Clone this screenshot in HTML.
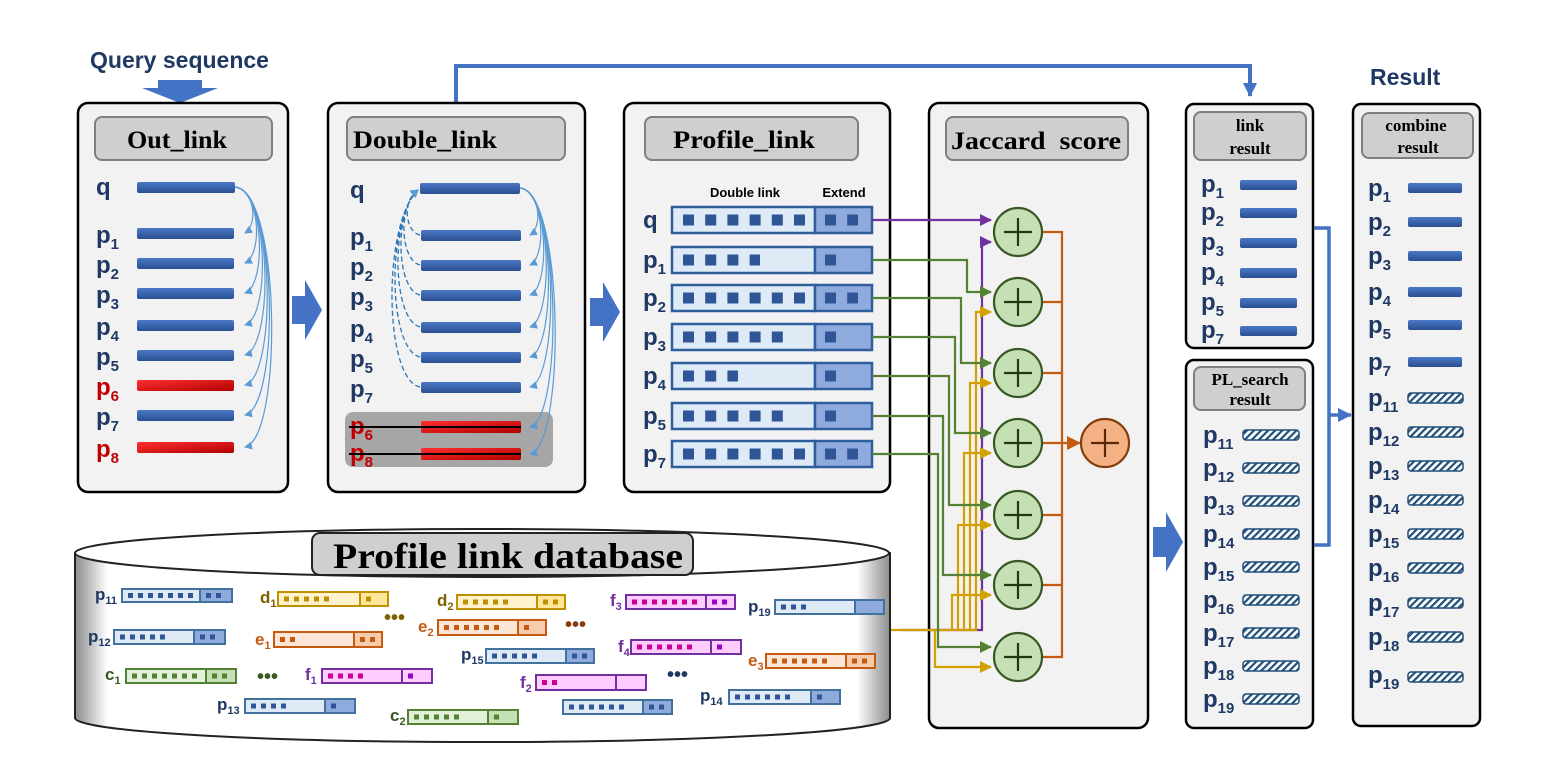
<!DOCTYPE html>
<html><head><meta charset="utf-8"><style>
html,body{margin:0;padding:0;background:#fff;}
svg{display:block;}
.lb{font-family:"Liberation Sans",sans-serif;font-weight:bold;font-size:24px;fill:#1f3864;}
.lb tspan{font-size:15px;}
.red{fill:#c00000;}
.hd{font-family:"Liberation Serif",serif;font-weight:bold;fill:#000;text-anchor:middle;}
.sm{font-family:"Liberation Sans",sans-serif;font-weight:bold;font-size:17px;}
.sm tspan{font-size:11px;}
</style></head><body>
<svg width="1557" height="778" viewBox="0 0 1557 778" xmlns="http://www.w3.org/2000/svg">
<defs>
<linearGradient id="gb" x1="0" y1="0" x2="0" y2="1"><stop offset="0" stop-color="#4a78c8"/><stop offset="1" stop-color="#2a4f90"/></linearGradient>
<linearGradient id="gr" x1="0" y1="0" x2="1" y2="1"><stop offset="0" stop-color="#ff3030"/><stop offset="1" stop-color="#b00000"/></linearGradient>
<linearGradient id="cyl" x1="0" y1="0" x2="1" y2="0"><stop offset="0" stop-color="#8c8c8c"/><stop offset="0.04" stop-color="#fff"/><stop offset="0.96" stop-color="#fff"/><stop offset="1" stop-color="#8c8c8c"/></linearGradient>
<pattern id="hatch" width="5" height="5" patternUnits="userSpaceOnUse" patternTransform="rotate(45)"><rect width="5" height="5" fill="#fff"/><rect width="2.2" height="5" fill="#1f4e79"/></pattern>
<marker id="ab" markerWidth="8" markerHeight="8" refX="7" refY="4" orient="auto" markerUnits="userSpaceOnUse"><path d="M0,0 L8,4 L0,8z" fill="#5b9bd5"/></marker>
<marker id="ag" markerWidth="12" markerHeight="12" refX="11" refY="6" orient="auto" markerUnits="userSpaceOnUse"><path d="M0,0 L12,6 L0,12z" fill="#548235"/></marker>
<marker id="ay" markerWidth="12" markerHeight="12" refX="11" refY="6" orient="auto" markerUnits="userSpaceOnUse"><path d="M0,0 L12,6 L0,12z" fill="#d4a000"/></marker>
<marker id="ap" markerWidth="12" markerHeight="12" refX="11" refY="6" orient="auto" markerUnits="userSpaceOnUse"><path d="M0,0 L12,6 L0,12z" fill="#7030a0"/></marker>
<marker id="ao" markerWidth="14" markerHeight="14" refX="13" refY="7" orient="auto" markerUnits="userSpaceOnUse"><path d="M0,0 L14,7 L0,14z" fill="#c55a11"/></marker>
<marker id="abl" markerWidth="14" markerHeight="14" refX="13" refY="7" orient="auto" markerUnits="userSpaceOnUse"><path d="M0,0 L14,7 L0,14z" fill="#4472c4"/></marker>
</defs>

<text x="90" y="68" font-family="Liberation Sans,sans-serif" font-weight="bold" font-size="23" fill="#1f3864">Query sequence</text>
<polygon points="158,80 202,80 202,88 218,88 180,103 142,88 158,88" fill="#4472c4"/>

<polyline points="456,103 456,66 1250,66 1250,96" fill="none" stroke="#4472c4" stroke-width="4" marker-end="url(#abl)"/>

<!-- Panel 1 -->
<rect x="78" y="103" width="210" height="389" rx="10" fill="#f2f2f2" stroke="#000" stroke-width="2.5"/>
<rect x="95" y="117" width="177" height="43" rx="7" fill="#d0cece" stroke="#7f7f7f" stroke-width="2"/>
<text x="177" y="148" class="hd" font-size="25" textLength="100" lengthAdjust="spacingAndGlyphs">Out_link</text>
<text x="96" y="195" class="lb">q</text>
<rect x="137" y="182" width="98" height="11" rx="2" fill="url(#gb)"/>
<text x="96" y="243" class="lb">p<tspan dy="6">1</tspan></text>
<text x="96" y="273" class="lb">p<tspan dy="6">2</tspan></text>
<text x="96" y="303" class="lb">p<tspan dy="6">3</tspan></text>
<text x="96" y="335" class="lb">p<tspan dy="6">4</tspan></text>
<text x="96" y="365" class="lb">p<tspan dy="6">5</tspan></text>
<text x="96" y="395" class="lb red">p<tspan dy="6">6</tspan></text>
<text x="96" y="425" class="lb">p<tspan dy="6">7</tspan></text>
<text x="96" y="457" class="lb red">p<tspan dy="6">8</tspan></text>
<rect x="137" y="228" width="97" height="11" rx="2" fill="url(#gb)"/>
<rect x="137" y="258" width="97" height="11" rx="2" fill="url(#gb)"/>
<rect x="137" y="288" width="97" height="11" rx="2" fill="url(#gb)"/>
<rect x="137" y="320" width="97" height="11" rx="2" fill="url(#gb)"/>
<rect x="137" y="350" width="97" height="11" rx="2" fill="url(#gb)"/>
<rect x="137" y="380" width="97" height="11" rx="2" fill="url(#gr)"/>
<rect x="137" y="410" width="97" height="11" rx="2" fill="url(#gb)"/>
<rect x="137" y="442" width="97" height="11" rx="2" fill="url(#gr)"/>
<g fill="none" stroke="#5b9bd5" stroke-width="1.2" marker-end="url(#ab)">
<path d="M235,187 C255,190 258,225 245,233"/>
<path d="M235,187 C260,190 263,255 245,263"/>
<path d="M235,187 C264,190 267,285 245,293"/>
<path d="M235,187 C268,190 271,317 245,325"/>
<path d="M235,187 C272,190 274,347 245,355"/>
<path d="M235,187 C275,190 277,377 245,385"/>
<path d="M235,187 C278,190 280,407 245,415"/>
<path d="M235,187 C281,190 283,439 245,447"/>
</g>

<polygon points="292,296 305,296 305,280 322,310 305,340 305,324 292,324" fill="#4472c4"/>
<polygon points="590,298 603,298 603,282 620,312 603,342 603,326 590,326" fill="#4472c4"/>
<polygon points="1153,527 1166,527 1166,512 1183,542 1166,572 1166,557 1153,557" fill="#4472c4"/>

<!-- Panel 2 -->
<rect x="328" y="103" width="257" height="389" rx="10" fill="#f2f2f2" stroke="#000" stroke-width="2.5"/>
<rect x="347" y="117" width="218" height="43" rx="7" fill="#d0cece" stroke="#7f7f7f" stroke-width="2"/>
<text x="425" y="148" class="hd" font-size="25" textLength="144" lengthAdjust="spacingAndGlyphs">Double_link</text>
<rect x="345" y="412" width="208" height="55" rx="8" fill="#a6a6a6"/>
<text x="350" y="198" class="lb">q</text>
<text x="350" y="245" class="lb">p<tspan dy="6">1</tspan></text>
<text x="350" y="275" class="lb">p<tspan dy="6">2</tspan></text>
<text x="350" y="305" class="lb">p<tspan dy="6">3</tspan></text>
<text x="350" y="337" class="lb">p<tspan dy="6">4</tspan></text>
<text x="350" y="367" class="lb">p<tspan dy="6">5</tspan></text>
<text x="350" y="397" class="lb">p<tspan dy="6">7</tspan></text>
<text x="350" y="434" class="lb red">p<tspan dy="6">6</tspan></text>
<text x="350" y="461" class="lb red">p<tspan dy="6">8</tspan></text>
<rect x="420" y="183" width="100" height="11" rx="2" fill="url(#gb)"/>
<rect x="421" y="230" width="100" height="11" rx="2" fill="url(#gb)"/>
<rect x="421" y="260" width="100" height="11" rx="2" fill="url(#gb)"/>
<rect x="421" y="290" width="100" height="11" rx="2" fill="url(#gb)"/>
<rect x="421" y="322" width="100" height="11" rx="2" fill="url(#gb)"/>
<rect x="421" y="352" width="100" height="11" rx="2" fill="url(#gb)"/>
<rect x="421" y="382" width="100" height="11" rx="2" fill="url(#gb)"/>
<rect x="421" y="421" width="100" height="12" rx="2" fill="url(#gr)"/>
<rect x="421" y="448" width="100" height="12" rx="2" fill="url(#gr)"/>
<line x1="349" y1="427" x2="521" y2="427" stroke="#000" stroke-width="2"/>
<line x1="349" y1="454" x2="521" y2="454" stroke="#000" stroke-width="2"/>
<g fill="none" stroke="#5b9bd5" stroke-width="1.2" marker-end="url(#ab)">
<path d="M520,188 C540,191 543,227 530,235"/>
<path d="M520,188 C544,191 547,257 530,265"/>
<path d="M520,188 C548,191 551,287 530,295"/>
<path d="M520,188 C552,191 554,319 530,327"/>
<path d="M520,188 C555,191 557,349 530,357"/>
<path d="M520,188 C558,191 560,379 530,387"/>
<path d="M520,188 C561,191 563,419 530,427"/>
<path d="M520,188 C564,191 566,446 530,454"/>
</g>
<g fill="none" stroke="#2e75b6" stroke-width="1.3" stroke-dasharray="5 3" marker-end="url(#ab)">
<path d="M420,235 C405,232 402,200 418,190"/>
<path d="M420,265 C400,260 398,205 418,190"/>
<path d="M420,295 C396,290 394,210 418,190"/>
<path d="M420,327 C392,320 390,215 418,190"/>
<path d="M420,357 C388,350 386,220 418,190"/>
<path d="M420,387 C384,380 382,225 418,190"/>
</g>

<!-- Panel 3 -->
<rect x="624" y="103" width="266" height="389" rx="10" fill="#f2f2f2" stroke="#000" stroke-width="2.5"/>
<rect x="645" y="117" width="213" height="43" rx="7" fill="#d0cece" stroke="#7f7f7f" stroke-width="2"/>
<text x="744" y="148" class="hd" font-size="25" textLength="142" lengthAdjust="spacingAndGlyphs">Profile_link</text>
<text x="745" y="197" font-family="Liberation Sans,sans-serif" font-size="13" font-weight="bold" text-anchor="middle">Double link</text>
<text x="844" y="197" font-family="Liberation Sans,sans-serif" font-size="13" font-weight="bold" text-anchor="middle">Extend</text>
<g stroke="#2e5f9c" stroke-width="2.5">
<rect x="672" y="207" width="143" height="26" fill="#deebf7"/><rect x="815" y="207" width="57" height="26" fill="#8faadc"/>
<rect x="672" y="247" width="143" height="26" fill="#deebf7"/><rect x="815" y="247" width="57" height="26" fill="#8faadc"/>
<rect x="672" y="285" width="143" height="26" fill="#deebf7"/><rect x="815" y="285" width="57" height="26" fill="#8faadc"/>
<rect x="672" y="324" width="143" height="26" fill="#deebf7"/><rect x="815" y="324" width="57" height="26" fill="#8faadc"/>
<rect x="672" y="363" width="143" height="26" fill="#deebf7"/><rect x="815" y="363" width="57" height="26" fill="#8faadc"/>
<rect x="672" y="403" width="143" height="26" fill="#deebf7"/><rect x="815" y="403" width="57" height="26" fill="#8faadc"/>
<rect x="672" y="441" width="143" height="26" fill="#deebf7"/><rect x="815" y="441" width="57" height="26" fill="#8faadc"/>
</g>
<g stroke="#2f5597" stroke-width="11" stroke-dasharray="11 11.2">
<line x1="683" y1="220" x2="805" y2="220"/><line x1="825" y1="220" x2="858" y2="220"/>
<line x1="683" y1="260" x2="760" y2="260"/><line x1="825" y1="260" x2="836" y2="260"/>
<line x1="683" y1="298" x2="805" y2="298"/><line x1="825" y1="298" x2="858" y2="298"/>
<line x1="683" y1="337" x2="783" y2="337"/><line x1="825" y1="337" x2="836" y2="337"/>
<line x1="683" y1="376" x2="738" y2="376"/><line x1="825" y1="376" x2="836" y2="376"/>
<line x1="683" y1="416" x2="783" y2="416"/><line x1="825" y1="416" x2="836" y2="416"/>
<line x1="683" y1="454" x2="805" y2="454"/><line x1="825" y1="454" x2="858" y2="454"/>
</g>
<text x="643" y="228" class="lb">q</text>
<text x="643" y="268" class="lb">p<tspan dy="6">1</tspan></text>
<text x="643" y="306" class="lb">p<tspan dy="6">2</tspan></text>
<text x="643" y="345" class="lb">p<tspan dy="6">3</tspan></text>
<text x="643" y="384" class="lb">p<tspan dy="6">4</tspan></text>
<text x="643" y="424" class="lb">p<tspan dy="6">5</tspan></text>
<text x="643" y="462" class="lb">p<tspan dy="6">7</tspan></text>

<!-- Panel 4 -->
<rect x="929" y="103" width="219" height="625" rx="10" fill="#f2f2f2" stroke="#000" stroke-width="2.5"/>
<rect x="946" y="117" width="182" height="43" rx="7" fill="#d0cece" stroke="#7f7f7f" stroke-width="2"/>
<text x="1036" y="149" class="hd" font-size="25" textLength="170" lengthAdjust="spacingAndGlyphs">Jaccard&#160; score</text>

<g fill="none" stroke-width="2.2">
<path d="M872,220 H991" stroke="#7030a0" marker-end="url(#ap)"/>
<path d="M900,630 H982 V242 H991" stroke="#7030a0" marker-end="url(#ap)"/>
<g stroke="#d4a000" marker-end="url(#ay)">
<path d="M890,630 H976 V312 H991"/>
<path d="M970,630 V383 H991"/>
<path d="M964,630 V453 H991"/>
<path d="M958,630 V525 H991"/>
<path d="M952,630 V595 H991"/>
<path d="M935,630 V667 H991"/>
</g>
<g stroke="#548235" marker-end="url(#ag)">
<path d="M872,260 H967 V292 H991"/>
<path d="M872,298 H961 V363 H991"/>
<path d="M872,337 H955 V433 H991"/>
<path d="M872,376 H949 V505 H991"/>
<path d="M872,416 H943 V575 H991"/>
<path d="M872,454 H938 V647 H991"/>
</g>
<g stroke="#c55a11">
<path d="M1042,232 H1062 V657 H1042"/>
<path d="M1042,302 H1062 M1042,373 H1062 M1042,515 H1062 M1042,585 H1062"/>
<path d="M1042,443 H1080" marker-end="url(#ao)"/>
</g>
</g>
<g fill="#c5e0b4" stroke="#385723" stroke-width="2.2">
<circle cx="1018" cy="232" r="24"/><circle cx="1018" cy="302" r="24"/><circle cx="1018" cy="373" r="24"/>
<circle cx="1018" cy="443" r="24"/><circle cx="1018" cy="515" r="24"/><circle cx="1018" cy="585" r="24"/><circle cx="1018" cy="657" r="24"/>
</g>
<g stroke="#1e3a12" stroke-width="2.2">
<path d="M1004,232 H1032 M1018,218 V246"/><path d="M1004,302 H1032 M1018,288 V316"/><path d="M1004,373 H1032 M1018,359 V387"/>
<path d="M1004,443 H1032 M1018,429 V457"/><path d="M1004,515 H1032 M1018,501 V529"/><path d="M1004,585 H1032 M1018,571 V599"/><path d="M1004,657 H1032 M1018,643 V671"/>
</g>
<circle cx="1105" cy="443" r="24" fill="#f4b183" stroke="#843c0c" stroke-width="2.2"/>
<path d="M1091,443 H1119 M1105,429 V457" stroke="#5a2a08" stroke-width="2.2"/>

<!-- link result -->
<rect x="1186" y="104" width="127" height="244" rx="8" fill="#f2f2f2" stroke="#000" stroke-width="2.5"/>
<rect x="1194" y="112" width="112" height="48" rx="7" fill="#d0cece" stroke="#7f7f7f" stroke-width="2"/>
<text x="1250" y="131" class="hd" font-size="17">link</text>
<text x="1250" y="154" class="hd" font-size="17">result</text>
<text x="1201" y="192" class="lb">p<tspan dy="6">1</tspan></text>
<text x="1201" y="220" class="lb">p<tspan dy="6">2</tspan></text>
<text x="1201" y="250" class="lb">p<tspan dy="6">3</tspan></text>
<text x="1201" y="280" class="lb">p<tspan dy="6">4</tspan></text>
<text x="1201" y="310" class="lb">p<tspan dy="6">5</tspan></text>
<text x="1201" y="338" class="lb">p<tspan dy="6">7</tspan></text>
<g fill="url(#gb)">
<rect x="1240" y="180" width="57" height="10" rx="2"/><rect x="1240" y="208" width="57" height="10" rx="2"/>
<rect x="1240" y="238" width="57" height="10" rx="2"/><rect x="1240" y="268" width="57" height="10" rx="2"/>
<rect x="1240" y="298" width="57" height="10" rx="2"/><rect x="1240" y="326" width="57" height="10" rx="2"/>
</g>

<!-- PL search -->
<rect x="1186" y="360" width="127" height="368" rx="8" fill="#f2f2f2" stroke="#000" stroke-width="2.5"/>
<rect x="1194" y="367" width="111" height="43" rx="7" fill="#d0cece" stroke="#7f7f7f" stroke-width="2"/>
<text x="1250" y="385" class="hd" font-size="17">PL_search</text>
<text x="1250" y="405" class="hd" font-size="17">result</text>
<text x="1203" y="443" class="lb">p<tspan dy="6">11</tspan></text>
<text x="1203" y="476" class="lb">p<tspan dy="6">12</tspan></text>
<text x="1203" y="509" class="lb">p<tspan dy="6">13</tspan></text>
<text x="1203" y="542" class="lb">p<tspan dy="6">14</tspan></text>
<text x="1203" y="575" class="lb">p<tspan dy="6">15</tspan></text>
<text x="1203" y="608" class="lb">p<tspan dy="6">16</tspan></text>
<text x="1203" y="641" class="lb">p<tspan dy="6">17</tspan></text>
<text x="1203" y="674" class="lb">p<tspan dy="6">18</tspan></text>
<text x="1203" y="707" class="lb">p<tspan dy="6">19</tspan></text>
<g fill="url(#hatch)" stroke="#1f4e79" stroke-width="1.5">
<rect x="1243" y="430" width="56" height="10" rx="3"/><rect x="1243" y="463" width="56" height="10" rx="3"/>
<rect x="1243" y="496" width="56" height="10" rx="3"/><rect x="1243" y="529" width="56" height="10" rx="3"/>
<rect x="1243" y="562" width="56" height="10" rx="3"/><rect x="1243" y="595" width="56" height="10" rx="3"/>
<rect x="1243" y="628" width="56" height="10" rx="3"/><rect x="1243" y="661" width="56" height="10" rx="3"/>
<rect x="1243" y="694" width="56" height="10" rx="3"/>
</g>

<polyline points="1314,228 1329,228 1329,545 1314,545" fill="none" stroke="#4472c4" stroke-width="3.5"/>
<line x1="1329" y1="415" x2="1351" y2="415" stroke="#4472c4" stroke-width="3.5" marker-end="url(#abl)"/>

<!-- combine -->
<text x="1370" y="85" font-family="Liberation Sans,sans-serif" font-weight="bold" font-size="23" fill="#1f3864">Result</text>
<rect x="1353" y="104" width="127" height="622" rx="8" fill="#f2f2f2" stroke="#000" stroke-width="2.5"/>
<rect x="1362" y="113" width="111" height="45" rx="7" fill="#d0cece" stroke="#7f7f7f" stroke-width="2"/>
<text x="1416" y="131" class="hd" font-size="17">combine</text>
<text x="1418" y="153" class="hd" font-size="17">result</text>
<text x="1368" y="196" class="lb">p<tspan dy="6">1</tspan></text>
<text x="1368" y="230" class="lb">p<tspan dy="6">2</tspan></text>
<text x="1368" y="264" class="lb">p<tspan dy="6">3</tspan></text>
<text x="1368" y="300" class="lb">p<tspan dy="6">4</tspan></text>
<text x="1368" y="333" class="lb">p<tspan dy="6">5</tspan></text>
<text x="1368" y="370" class="lb">p<tspan dy="6">7</tspan></text>
<text x="1368" y="406" class="lb">p<tspan dy="6">11</tspan></text>
<text x="1368" y="440" class="lb">p<tspan dy="6">12</tspan></text>
<text x="1368" y="474" class="lb">p<tspan dy="6">13</tspan></text>
<text x="1368" y="508" class="lb">p<tspan dy="6">14</tspan></text>
<text x="1368" y="542" class="lb">p<tspan dy="6">15</tspan></text>
<text x="1368" y="576" class="lb">p<tspan dy="6">16</tspan></text>
<text x="1368" y="611" class="lb">p<tspan dy="6">17</tspan></text>
<text x="1368" y="645" class="lb">p<tspan dy="6">18</tspan></text>
<text x="1368" y="683" class="lb">p<tspan dy="6">19</tspan></text>
<g fill="url(#gb)">
<rect x="1408" y="183" width="54" height="10" rx="2"/><rect x="1408" y="217" width="54" height="10" rx="2"/>
<rect x="1408" y="251" width="54" height="10" rx="2"/><rect x="1408" y="287" width="54" height="10" rx="2"/>
<rect x="1408" y="320" width="54" height="10" rx="2"/><rect x="1408" y="357" width="54" height="10" rx="2"/>
</g>
<g fill="url(#hatch)" stroke="#1f4e79" stroke-width="1.5">
<rect x="1408" y="393" width="55" height="10" rx="3"/><rect x="1408" y="427" width="55" height="10" rx="3"/>
<rect x="1408" y="461" width="55" height="10" rx="3"/><rect x="1408" y="495" width="55" height="10" rx="3"/>
<rect x="1408" y="529" width="55" height="10" rx="3"/><rect x="1408" y="563" width="55" height="10" rx="3"/>
<rect x="1408" y="598" width="55" height="10" rx="3"/><rect x="1408" y="632" width="55" height="10" rx="3"/>
<rect x="1408" y="672" width="55" height="10" rx="3"/>
</g>

<!-- Database cylinder -->
<path d="M75,553 V718 A407,24 0 0 0 890,718 V553 Z" fill="url(#cyl)" stroke="#222" stroke-width="2"/>
<ellipse cx="482" cy="553" rx="407" ry="24" fill="#fff" stroke="#222" stroke-width="2"/>
<rect x="312" y="533" width="381" height="42" rx="8" fill="#d0cece" stroke="#222" stroke-width="2"/>
<text x="508" y="568" class="hd" font-size="36" textLength="350" lengthAdjust="spacingAndGlyphs">Profile link database</text>

<g stroke-width="2">
<g stroke="#41719c">
<rect x="122" y="589" width="78" height="13" fill="#deebf7"/><rect x="200" y="589" width="32" height="13" fill="#8faadc"/>
<rect x="114" y="630" width="80" height="14" fill="#deebf7"/><rect x="194" y="630" width="31" height="14" fill="#8faadc"/>
<rect x="775" y="600" width="80" height="14" fill="#deebf7"/><rect x="855" y="600" width="29" height="14" fill="#8faadc"/>
<rect x="486" y="649" width="80" height="14" fill="#deebf7"/><rect x="566" y="649" width="28" height="14" fill="#8faadc"/>
<rect x="245" y="699" width="80" height="14" fill="#deebf7"/><rect x="325" y="699" width="30" height="14" fill="#8faadc"/>
<rect x="563" y="700" width="80" height="14" fill="#deebf7"/><rect x="643" y="700" width="29" height="14" fill="#8faadc"/>
<rect x="729" y="690" width="82" height="14" fill="#deebf7"/><rect x="811" y="690" width="29" height="14" fill="#8faadc"/>
</g>
<g stroke="#bf9000">
<rect x="278" y="592" width="82" height="14" fill="#fff2cc"/><rect x="360" y="592" width="28" height="14" fill="#ffe699"/>
<rect x="457" y="595" width="80" height="14" fill="#fff2cc"/><rect x="537" y="595" width="28" height="14" fill="#ffe699"/>
</g>
<g stroke="#c55a11">
<rect x="274" y="632" width="80" height="15" fill="#fbe5d6"/><rect x="354" y="632" width="28" height="15" fill="#f8cbad"/>
<rect x="438" y="620" width="80" height="15" fill="#fbe5d6"/><rect x="518" y="620" width="28" height="15" fill="#f8cbad"/>
<rect x="766" y="654" width="80" height="14" fill="#fbe5d6"/><rect x="846" y="654" width="29" height="14" fill="#f8cbad"/>
</g>
<g stroke="#548235">
<rect x="126" y="669" width="80" height="14" fill="#e2f0d9"/><rect x="206" y="669" width="30" height="14" fill="#c5e0b4"/>
<rect x="408" y="710" width="80" height="14" fill="#e2f0d9"/><rect x="488" y="710" width="30" height="14" fill="#c5e0b4"/>
</g>
<g stroke="#7030a0" fill="#ffccff">
<rect x="626" y="595" width="80" height="14"/><rect x="706" y="595" width="29" height="14"/>
<rect x="631" y="640" width="80" height="14"/><rect x="711" y="640" width="30" height="14"/>
<rect x="322" y="669" width="80" height="14"/><rect x="402" y="669" width="30" height="14"/>
<rect x="536" y="675" width="80" height="15"/><rect x="616" y="675" width="30" height="15"/>
</g>
</g>
<g stroke-width="5" stroke-dasharray="5 5">
<g stroke="#2f5597">
<line x1="128" y1="595.5" x2="193" y2="595.5"/><line x1="206" y1="595.5" x2="221" y2="595.5"/>
<line x1="120" y1="637" x2="165" y2="637"/><line x1="200" y1="637" x2="215" y2="637"/>
<line x1="781" y1="607" x2="806" y2="607"/>
<line x1="492" y1="656" x2="537" y2="656"/><line x1="572" y1="656" x2="587" y2="656"/>
<line x1="251" y1="706" x2="286" y2="706"/><line x1="331" y1="706" x2="336" y2="706"/>
<line x1="569" y1="707" x2="624" y2="707"/><line x1="649" y1="707" x2="664" y2="707"/>
<line x1="735" y1="697" x2="790" y2="697"/><line x1="817" y1="697" x2="822" y2="697"/>
</g>
<g stroke="#bf9000">
<line x1="284" y1="599" x2="329" y2="599"/><line x1="366" y1="599" x2="371" y2="599"/>
<line x1="463" y1="602" x2="508" y2="602"/><line x1="543" y1="602" x2="558" y2="602"/>
</g>
<g stroke="#c55a11">
<line x1="280" y1="639.5" x2="295" y2="639.5"/><line x1="360" y1="639.5" x2="375" y2="639.5"/>
<line x1="444" y1="627.5" x2="499" y2="627.5"/><line x1="524" y1="627.5" x2="529" y2="627.5"/>
<line x1="772" y1="661" x2="827" y2="661"/><line x1="852" y1="661" x2="867" y2="661"/>
</g>
<g stroke="#548235">
<line x1="132" y1="676" x2="197" y2="676"/><line x1="212" y1="676" x2="227" y2="676"/>
<line x1="414" y1="717" x2="459" y2="717"/><line x1="494" y1="717" x2="499" y2="717"/>
</g>
<g stroke="#cc0099">
<line x1="632" y1="602" x2="697" y2="602"/>
<line x1="637" y1="647" x2="692" y2="647"/>
<line x1="328" y1="676" x2="363" y2="676"/>
<line x1="542" y1="682.5" x2="557" y2="682.5"/>
</g>
<g stroke="#9900cc">
<line x1="712" y1="602" x2="727" y2="602"/><line x1="717" y1="647" x2="722" y2="647"/><line x1="408" y1="676" x2="413" y2="676"/>
</g>
</g>
<g class="sm">
<text x="95" y="600" fill="#1f3864">p<tspan dy="4">11</tspan></text>
<text x="88" y="642" fill="#1f3864">p<tspan dy="4">12</tspan></text>
<text x="748" y="612" fill="#1f3864">p<tspan dy="4">19</tspan></text>
<text x="461" y="660" fill="#1f3864">p<tspan dy="4">15</tspan></text>
<text x="217" y="710" fill="#1f3864">p<tspan dy="4">13</tspan></text>
<text x="700" y="701" fill="#1f3864">p<tspan dy="4">14</tspan></text>
<text x="260" y="603" fill="#7f6000">d<tspan dy="4">1</tspan></text>
<text x="437" y="606" fill="#7f6000">d<tspan dy="4">2</tspan></text>
<text x="255" y="645" fill="#c55a11">e<tspan dy="4">1</tspan></text>
<text x="418" y="632" fill="#c55a11">e<tspan dy="4">2</tspan></text>
<text x="748" y="666" fill="#c55a11">e<tspan dy="4">3</tspan></text>
<text x="105" y="680" fill="#385723">c<tspan dy="4">1</tspan></text>
<text x="390" y="721" fill="#385723">c<tspan dy="4">2</tspan></text>
<text x="610" y="606" fill="#7030a0">f<tspan dy="4">3</tspan></text>
<text x="618" y="652" fill="#7030a0">f<tspan dy="4">4</tspan></text>
<text x="305" y="680" fill="#7030a0">f<tspan dy="4">1</tspan></text>
<text x="520" y="688" fill="#7030a0">f<tspan dy="4">2</tspan></text>
</g>
<g font-family="Liberation Sans,sans-serif" font-weight="bold" font-size="20">
<text x="384" y="624" fill="#7f6000">•••</text>
<text x="565" y="631" fill="#843c0c">•••</text>
<text x="257" y="683" fill="#385723">•••</text>
<text x="667" y="681" fill="#1f3864">•••</text>
</g>
</svg>
</body></html>
